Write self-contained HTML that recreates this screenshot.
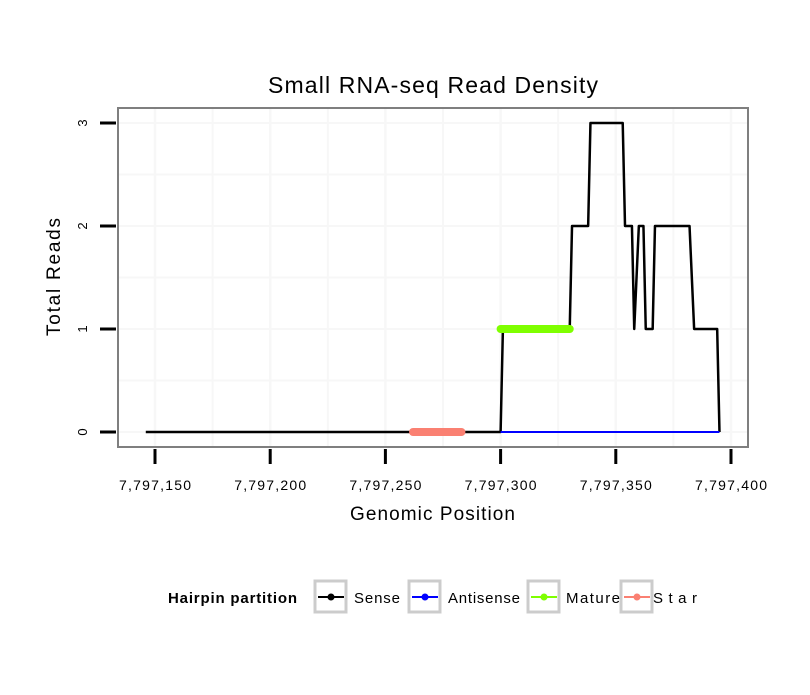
<!DOCTYPE html>
<html><head><meta charset="utf-8"><style>
body{margin:0;background:#fff;}
svg text{font-family:"Liberation Sans",sans-serif;}
</style></head><body>
<svg width="810" height="690" viewBox="0 0 810 690">
<rect width="810" height="690" fill="#fff"/>
<text x="268" y="93" font-size="23" textLength="330" lengthAdjust="spacing">Small RNA-seq Read Density</text>
<g id="grid"></g>
<g id="marks"></g>
<rect x="118" y="108" width="630" height="339" fill="none" stroke="#7f7f7f" stroke-width="2"/>
<g id="axes"></g>
<text x="350" y="520" font-size="19" textLength="165" lengthAdjust="spacing">Genomic Position</text>
<text transform="translate(60,336) rotate(-90)" font-size="19" textLength="118" lengthAdjust="spacing">Total Reads</text>
<g>
<text x="168" y="603" font-size="15" font-weight="bold" textLength="129" lengthAdjust="spacing">Hairpin partition</text>
<g id="legend"></g>
</g>
</svg>
<script>
const senseX=[7797146,7797300,7797301,7797330,7797331,7797338,7797339,7797353,7797354,7797357,7797358,7797360,7797362,7797363,7797366,7797367,7797382,7797384,7797394,7797395];
const senseY=[0,0,1,1,2,2,3,3,2,2,1,2,2,1,1,2,2,1,1,0];
const antisenseX=[7797300,7797395];
const antisenseY=[0,0];
const matureX=[7797300,7797330];
const matureY=[1,1];
const starX=[7797262,7797283];
const starY=[0,0];
const xTicks=[7797150,7797200,7797250,7797300,7797350,7797400];
const xTickLabels=["7,797,150","7,797,200","7,797,250","7,797,300","7,797,350","7,797,400"];
const yTicks=[0,1,2,3];
const legendLabels=["Sense","Antisense","Mature","Star"];
const legendColors=["#000000","#0000ff","#7fff00","#fa8072"];

const NS="http://www.w3.org/2000/svg";
function X(v){return 155+(v-7797150)*2.304;}
function Y(v){return 432-v*103;}
function mk(tag,attrs,parent){const e=document.createElementNS(NS,tag);for(const k in attrs)e.setAttribute(k,attrs[k]);parent.appendChild(e);return e;}
const grid=document.getElementById('grid'),marks=document.getElementById('marks'),axes=document.getElementById('axes'),legend=document.getElementById('legend');
for(let v=7797125;v<=7797425;v+=25){const x=X(v);if(x<=119||x>=747)continue;
 const l=mk('line',{x1:x,x2:x,y1:109,y2:446,stroke:'#f7f7f7','stroke-width':v%50===0?2.5:2},grid);
 
 }
for(let v=-0.5;v<=3.5;v+=0.5){const y=Y(v);if(y<=109||y>=446)continue;
 const l=mk('line',{x1:119,x2:747,y1:y,y2:y,stroke:'#f7f7f7','stroke-width':2},grid);
 
 }
function series(xs,ys,color,w,name){
 const p=mk('polyline',{points:xs.map((x,i)=>X(x)+','+Y(ys[i])).join(' '),fill:'none',stroke:color,'stroke-width':w,'stroke-linecap':w>4?'round':'butt','stroke-linejoin':'round'},marks);
 
 }
series(senseX,senseY,'#000',2.5,'sense-line');
series(antisenseX,antisenseY,'#0000ff',2,'antisense-line');
series(matureX,matureY,'#7fff00',8,'mature-line');
series(starX,starY,'#fa8072',8,'star-line');
xTicks.forEach((v,i)=>{const x=X(v);
 const t=mk('line',{x1:x,x2:x,y1:449,y2:464,stroke:'#000','stroke-width':3},axes);
 
 
 const tx=mk('text',{x:x-36,y:490,'font-size':14,textLength:72,lengthAdjust:'spacing'},axes);tx.textContent=xTickLabels[i];
 
 });
yTicks.forEach(v=>{const y=Y(v);
 const t=mk('line',{x1:100,x2:116,y1:y,y2:y,stroke:'#000','stroke-width':3},axes);
 
 
 const tx=mk('text',{transform:`translate(87,${y}) rotate(-90)`,'font-size':13,'text-anchor':'middle'},axes);tx.textContent=String(v);
 
 });
const lx=[314,408,527,620],tx=[354,448,566,653],tl=[46,72,54,44];
legendLabels.forEach((lab,i)=>{
 const g=mk('g',{},legend);
 
 
 mk('rect',{x:lx[i]+1,y:581,width:31,height:31,fill:'#fff',stroke:'#cccccc','stroke-width':3},g);
 mk('line',{x1:lx[i]+4,x2:lx[i]+30,y1:597,y2:597,stroke:legendColors[i],'stroke-width':2},g);
 mk('circle',{cx:lx[i]+17,cy:597,r:3.5,fill:legendColors[i]},g);
 const t=mk('text',{x:tx[i],y:603,'font-size':15,textLength:tl[i],lengthAdjust:'spacing'},g);t.textContent=lab;});
</script>
</body></html>
